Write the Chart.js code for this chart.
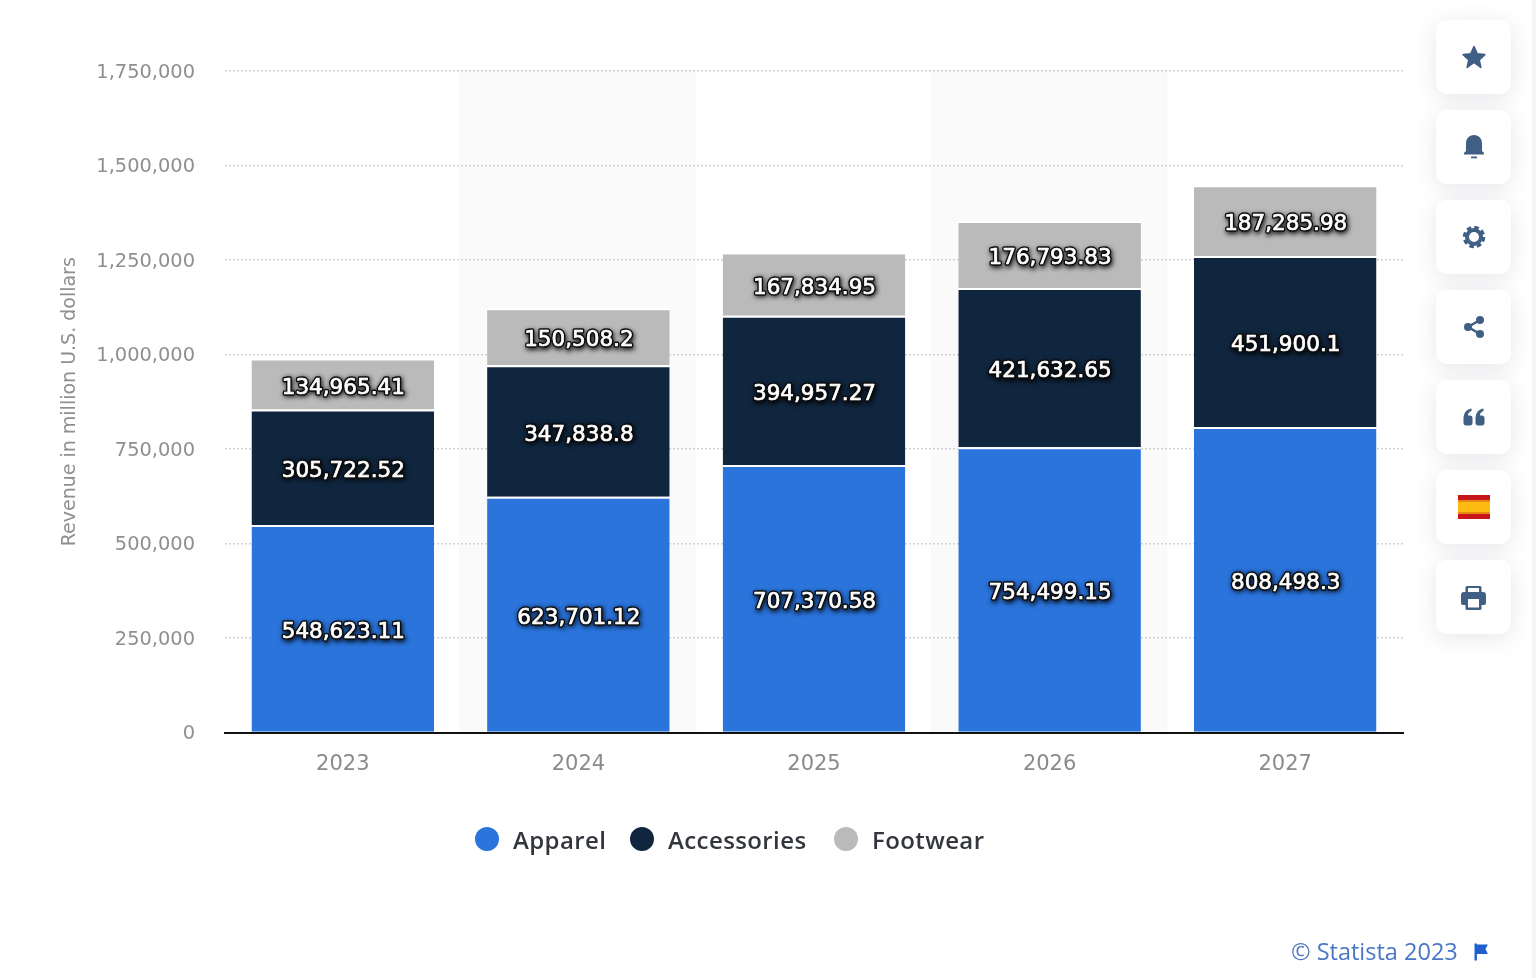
<!DOCTYPE html>
<html>
<head>
<meta charset="utf-8">
<title>Revenue by category</title>
<script src="https://cdn.jsdelivr.net/npm/chart.js@4"></script>
<style>
    html, body { margin: 0; padding: 0; background: #fff; overflow: hidden; }
    #wrap { position: relative; width: 1536px; height: 978px; }
    #chart { position: absolute; left: 0; top: 0; }
    #edge { position: absolute; left: 1532px; top: 0; width: 4px; height: 978px; background: #f4f5f8; }
    .side-btn {
        position: absolute; left: 1436px; width: 75px; height: 74px; background: #fff;
        border-radius: 11px; box-shadow: 0 4px 22px rgba(60, 70, 90, 0.13);
        display: flex; align-items: center; justify-content: center;
    }
    .side-btn svg { display: block; }
    #legend { position: absolute; left: 0; top: 826px; height: 28px; }
    .legend-dot { position: absolute; top: 1px; width: 24px; height: 24px; border-radius: 50%; }
    .legend-text {
        position: absolute; top: -3px; font: 600 24px "Open Sans", sans-serif; color: #33373d;
        letter-spacing: 0.4px; white-space: nowrap;
    }
    #source {
        position: absolute; left: 1291px; top: 935px; font: 23.500px "Open Sans", sans-serif; color: #4a76c6;
        white-space: nowrap;
    }
    #source-flag { position: absolute; left: 1473px; top: 943px; }
</style>
</head>
<body>
<div id="wrap">
    <canvas id="chart" width="1536" height="978"></canvas>
    <div id="edge"></div>
    <div id="legend"></div>
    <div id="source">© Statista 2023</div>
    <svg id="source-flag" width="16" height="18" viewBox="0 0 16 18">
        <path d="M1.500 0.500h2.400v17h-2.400z M3.900 1.500h11l-2.400 4.500 2.400 5h-11z" fill="#1f5fd0"/>
    </svg>
</div>

<script>
const years = ['2023', '2024', '2025', '2026', '2027']
const apparel = [548623.11, 623701.12, 707370.58, 754499.15, 808498.3]
const accessories = [305722.52, 347838.8, 394957.27, 421632.65, 451900.1]
const footwear = [134965.41, 150508.2, 167834.95, 176793.83, 187285.98]
const apparelLabels = ['548,623.11', '623,701.12', '707,370.58', '754,499.15', '808,498.3']
const accessoriesLabels = ['305,722.52', '347,838.8', '394,957.27', '421,632.65', '451,900.1']
const footwearLabels = ['134,965.41', '150,508.2', '167,834.95', '176,793.83', '187,285.98']
const yTicks = [0, 250000, 500000, 750000, 1000000, 1250000, 1500000, 1750000]

const seriesNames = ['Apparel', 'Accessories', 'Footwear']
const seriesColors = ['#2a74dc', '#10263f', '#bababa']
const seriesLabels = [apparelLabels, accessoriesLabels, footwearLabels]

//--------------------------------------------------------------------------------
// shaded column behind every second year
const bandPlugin = {
    id: 'bands',
    beforeDraw(chart) {
        const { ctx, chartArea, scales } = chart
        const step = scales.x.getPixelForValue(1) - scales.x.getPixelForValue(0)
        ctx.save()
        ctx.fillStyle = '#fafafa'
        years.forEach((year, i) => {
            if (i % 2 === 1) {
                const x = scales.x.getPixelForValue(i)
                ctx.fillRect(x - step / 2 - 1.5, chartArea.top, step + 1.5, chartArea.bottom - chartArea.top)
            }
        })
        ctx.restore()
    }
}

// white numbers with a dark glow in the middle of each segment
const valueLabelPlugin = {
    id: 'valueLabels',
    afterDatasetsDraw(chart) {
        const ctx = chart.ctx
        ctx.save()
        ctx.font = '21.500px "DejaVu Sans"'
        ctx.textAlign = 'center'
        ctx.textBaseline = 'middle'
        ctx.lineJoin = 'round'
        chart.data.datasets.forEach((dataset, d) => {
            chart.getDatasetMeta(d).data.forEach((bar, i) => {
                const p = bar.getCenterPoint()
                const text = seriesLabels[d][i]
                const x = p.x + 0.5
                const y = p.y + 4
                ctx.shadowColor = 'rgba(0, 0, 0, 0.95)'
                ctx.shadowBlur = 5
                ctx.shadowOffsetX = 1
                ctx.shadowOffsetY = 1.5
                ctx.lineWidth = 3.5
                ctx.strokeStyle = '#0c0c0c'
                ctx.strokeText(text, x, y)
                ctx.shadowColor = 'transparent'
                ctx.lineWidth = 0.7
                ctx.strokeStyle = '#fff'
                ctx.strokeText(text, x, y)
                ctx.fillStyle = '#fff'
                ctx.fillText(text, x, y)
            })
        })
        ctx.restore()
    }
}

function makeDataset(index, values) {
    return {
        label: seriesNames[index],
        data: values,
        backgroundColor: seriesColors[index],
        borderColor: '#fff',
        borderWidth: { top: 2, left: 0, right: 0, bottom: 0 },
        borderSkipped: false,
        categoryPercentage: 1,
        barPercentage: 0.775
    }
}

new Chart(document.getElementById('chart').getContext('2d'), {
    type: 'bar',
    data: {
        labels: years,
        datasets: [makeDataset(0, apparel), makeDataset(1, accessories), makeDataset(2, footwear)]
    },
    options: {
        responsive: false,
        animation: false,
        layout: { padding: { left: 0, right: 133, top: 71, bottom: 0 } },
        plugins: { legend: { display: false }, tooltip: { enabled: false } },
        scales: {
            x: {
                stacked: true,
                z: 1,
                afterFit: (scale) => { scale.height = 245.5 },
                grid: { display: false },
                border: { color: '#111', width: 2 },
                ticks: {
                    color: '#8a8a8a',
                    font: { family: 'DejaVu Sans', size: 21 },
                    padding: 11,
                    maxRotation: 0
                }
            },
            y: {
                stacked: true,
                min: 0,
                max: 1750000,
                afterFit: (scale) => { scale.width = 225 },
                afterBuildTicks: (scale) => { scale.ticks = yTicks.map((v) => ({ value: v })) },
                grid: { color: '#d2d2d2', lineWidth: 1.5, drawTicks: false },
                border: { display: false, dash: [2, 2] },
                title: {
                    display: true,
                    text: 'Revenue in million U.S. dollars',
                    color: '#8f8f8f',
                    font: { family: 'DejaVu Sans', size: 19 },
                    padding: { top: 59, bottom: 0 }
                },
                ticks: {
                    color: '#8f8f8f',
                    // empty first line and a short line height push the label down a little
                    font: { family: 'DejaVu Sans', size: 19.4, lineHeight: 0.2 },
                    padding: 30,
                    callback: (v) => ['', v.toLocaleString('en-US')]
                }
            }
        }
    },
    plugins: [bandPlugin, valueLabelPlugin]
})

//--------------------------------------------------------------------------------
// legend and side buttons are page elements, not part of the chart
const legendDotX = [475, 630, 834]
const legendTextX = [513, 668, 872]
const legend = document.getElementById('legend')
seriesNames.forEach((name, i) => {
    legend.innerHTML +=
    `
    <div class="legend-dot" style="left:${legendDotX[i]}px;background:${seriesColors[i]}"></div>
    <div class="legend-text" style="left:${legendTextX[i]}px">${name}</div>
    `
})

const ink = '#3f5f85'
const buttonIcons = [
    `<svg width="26" height="26" viewBox="0 0 24 24"><path fill="${ink}" stroke="${ink}" stroke-width="1.500" stroke-linejoin="round" d="M12 2.500l3 6.600 7 .7-5.200 4.800 1.500 7L12 17l-6.300 4.600 1.500-7L2 9.800l7-.7z"/></svg>`,
    `<svg width="24" height="26" viewBox="0 0 24 26"><path fill="${ink}" d="M12 1c5 0 8 3.600 8 8.500V17l2 2v1.500H2V19l2-2V9.500C4 4.600 7 1 12 1z"/><rect x="9" y="22.500" width="6" height="1.800" fill="${ink}"/></svg>`,
    `<svg width="26" height="26" viewBox="0 0 26 26"><circle cx="13" cy="13" r="9.500" fill="none" stroke="${ink}" stroke-width="3.500" stroke-dasharray="4.500 2.960"/><circle cx="13" cy="13" r="7" fill="none" stroke="${ink}" stroke-width="4"/></svg>`,
    `<svg width="24" height="24" viewBox="0 0 24 24"><path d="M18 5L6 12l12 7" fill="none" stroke="${ink}" stroke-width="2.500"/><circle cx="18" cy="5" r="4" fill="${ink}"/><circle cx="6" cy="12" r="4" fill="${ink}"/><circle cx="18" cy="19" r="4" fill="${ink}"/></svg>`,
    `<svg width="22" height="18" viewBox="0 0 22 18"><path fill="${ink}" d="M0.500 11C0.500 5.500 3 1.500 8.500 0.500v2.500C6.500 3.800 5 5.500 4.800 7.500H7c1.500 0 2.500 1 2.500 2.500v5c0 1.500-1 2.500-2.500 2.500H3c-1.500 0-2.500-1-2.500-2.500z M12.500 11c0-5.500 2.500-9.500 8-10.500v2.500C18.500 3.800 17 5.500 16.800 7.500H19c1.500 0 2.500 1 2.500 2.500v5c0 1.500-1 2.500-2.500 2.500h-4c-1.500 0-2.500-1-2.500-2.500z"/></svg>`,
    `<svg width="32" height="24" viewBox="0 0 32 24"><rect width="32" height="24" fill="#c8161d"/><rect y="5" width="32" height="14" fill="#e88a12"/><rect y="7" width="32" height="10" fill="#fdbb12"/></svg>`,
    `<svg width="25" height="25" viewBox="0 0 25 25"><path fill="${ink}" d="M6 1h13a1.500 1.500 0 0 1 1.500 1.500V7H4.500V2.500A1.500 1.500 0 0 1 6 1z"/><path fill="#fff" d="M7 3h11v4H7z"/><path fill="${ink}" d="M3 7h19a3 3 0 0 1 3 3v8a2 2 0 0 1-2 2h-2.500v3.500a1.500 1.500 0 0 1-1.500 1.500H6a1.500 1.500 0 0 1-1.500-1.500V20H2a2 2 0 0 1-2-2v-8a3 3 0 0 1 3-3z"/><path fill="#fff" d="M7 14h11v8.500H7z"/></svg>`
]
const buttonTops = [20, 110, 200, 290, 380, 470, 560]
const wrap = document.getElementById('wrap')
buttonTops.forEach((top, i) => {
    const button = document.createElement('div')
    button.className = 'side-btn'
    button.style.top = top + 'px'
    button.innerHTML = buttonIcons[i]
    wrap.appendChild(button)
})
</script>
</body>
</html>
